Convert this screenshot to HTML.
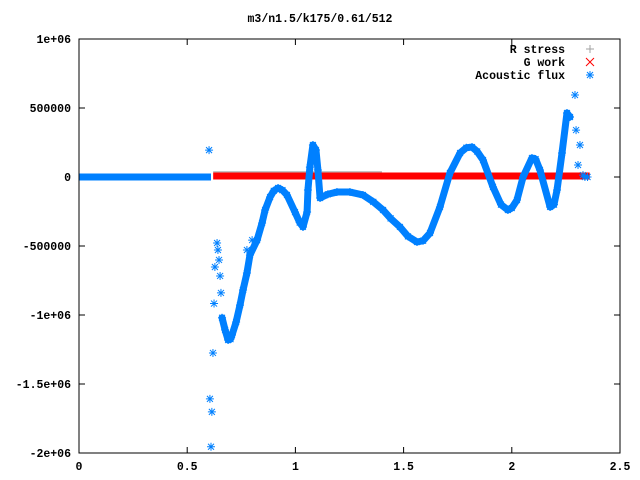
<!DOCTYPE html>
<html><head><meta charset="utf-8"><style>
html,body{margin:0;padding:0;background:#fff}
svg{display:block}
text{font-family:"Liberation Mono",monospace;font-size:11.5px;font-weight:bold;fill:#000}
</style></head><body>
<svg id="chart" width="640" height="480" viewBox="0 0 640 480" xmlns="http://www.w3.org/2000/svg">
<rect x="0" y="0" width="640" height="480" fill="#fff"/>
<text x="320" y="22" text-anchor="middle">m3/n1.5/k175/0.61/512</text>
<g id="axes"></g>
<g id="series"></g>
<rect x="79" y="39" width="541" height="414" fill="none" stroke="#000" stroke-width="1"/>
<g>
<text x="565" y="53" text-anchor="end">R stress</text>
<text x="565" y="66" text-anchor="end">G work</text>
<text x="565" y="79" text-anchor="end">Acoustic flux</text>
<path d="M586 49h8M590 45v8" stroke="#a0a0a0" stroke-width="1"/>
<path d="M586 58l8 8M594 58l-8 8" stroke="#ff0000" stroke-width="1"/>
<path d="M586 75h8M590 71v8M587 72l6 6M593 72l-6 6" stroke="#0080ff" stroke-width="1"/>
</g>
</svg>
<script>
const xTicks=[0,0.5,1,1.5,2,2.5];
const xTickLabels=["0","0.5","1","1.5","2","2.5"];
const yTicks=[1e6,5e5,0,-5e5,-1e6,-1.5e6,-2e6];
const yTickLabels=["1e+06","500000","0","-500000","-1e+06","-1.5e+06","-2e+06"];
const fluxX=[0.661,0.675,0.689,0.700,0.707,0.726,0.744,0.758,0.776,0.790,0.823,0.846,0.860,0.883,0.900,0.920,0.940,0.961,0.998,1.020,1.035,1.054,1.058,1.067,1.081,1.095,1.104,1.114,1.150,1.192,1.252,1.312,1.360,1.405,1.440,1.483,1.520,1.562,1.590,1.622,1.668,1.714,1.761,1.790,1.816,1.840,1.867,1.913,1.950,1.982,2.000,2.024,2.052,2.093,2.110,2.130,2.177,2.195,2.209,2.232,2.255,2.269];
const fluxY=[-1020000,-1108000,-1181000,-1175000,-1145000,-1051000,-928000,-819000,-696000,-565000,-457000,-333000,-239000,-145000,-100000,-80000,-95000,-130000,-254000,-330000,-362000,-254000,-94000,72000,232000,196000,51000,-152000,-125000,-109000,-109000,-130000,-180000,-239000,-300000,-362000,-430000,-471000,-462000,-406000,-217000,29000,174000,212000,217000,185000,123000,-72000,-200000,-239000,-225000,-167000,0,138000,130000,51000,-217000,-200000,-94000,174000,464000,435000];
const scatterX=[0.601,0.605,0.610,0.614,0.619,0.624,0.628,0.638,0.642,0.647,0.652,0.656,0.758,0.776,0.800,2.292,2.297,2.306,2.315,2.329,2.338,2.350];
const scatterY=[195000,-1608000,-1955000,-1702000,-1275000,-917000,-652000,-478000,-529000,-601000,-717000,-840000,-819000,-529000,-457000,594000,340000,87000,232000,14000,0,0];
const zeroFluxRange=[0,0.61];
const gWorkRange=[0.62,2.36];
const gWorkValue=0;
const rStressRange=[0.62,1.4];
const rStressValue=30000;

const X=v=>79+v*216.4;
const Y=v=>177-v*69/500000;
const NS="http://www.w3.org/2000/svg";
const axes=document.getElementById('axes');
const ser=document.getElementById('series');
function mk(tag,attrs,parent){const e=document.createElementNS(NS,tag);for(const k in attrs)e.setAttribute(k,attrs[k]);parent.appendChild(e);return e;}

xTicks.forEach((t,i)=>{
  const px=X(t);
  const tk=mk('path',{d:`M${px} 453v-6M${px} 39v6`,stroke:'#000'},axes);
  
  
  const l=mk('text',{x:px,y:470,'text-anchor':'middle'},axes);
  l.textContent=xTickLabels[i];
  
  
});
yTicks.forEach((t,i)=>{
  const py=Y(t);
  const tk=mk('path',{d:`M79 ${py}h6M620 ${py}h-6`,stroke:'#000'},axes);
  
  
  const l=mk('text',{x:71,y:py+4,'text-anchor':'end'},axes);
  l.textContent=yTickLabels[i];
  
  
});

const band=mk('line',{x1:X(zeroFluxRange[0]),x2:X(zeroFluxRange[1]),y1:Y(0),y2:Y(0),stroke:'#0080ff','stroke-width':7},ser);


const rs=mk('line',{x1:X(rStressRange[0]),x2:X(rStressRange[1]),y1:Y(rStressValue)-1,y2:Y(rStressValue)-1,stroke:'#a0a0a0','stroke-width':1},ser);


const gw=mk('line',{x1:X(gWorkRange[0]),x2:X(gWorkRange[1]),y1:Y(gWorkValue)-1,y2:Y(gWorkValue)-1,stroke:'#ff0000','stroke-width':7},ser);



const pts=fluxX.map((x,i)=>X(x)+','+Y(fluxY[i])).join(' ');
const pl=mk('polyline',{points:pts,fill:'none',stroke:'#0080ff','stroke-width':7,'stroke-linejoin':'round','stroke-linecap':'round'},ser);


function star(x,y){
  const s=mk('path',{d:`M${x-4} ${y}h8M${x} ${y-4}v8M${x-3} ${y-3}l6 6M${x+3} ${y-3}l-6 6`,stroke:'#0080ff','stroke-width':1},ser);
  
  
}
fluxX.forEach((x,i)=>star(X(x),Y(fluxY[i])));
scatterX.forEach((x,i)=>star(X(x),Y(scatterY[i])));
</script>
</body></html>
